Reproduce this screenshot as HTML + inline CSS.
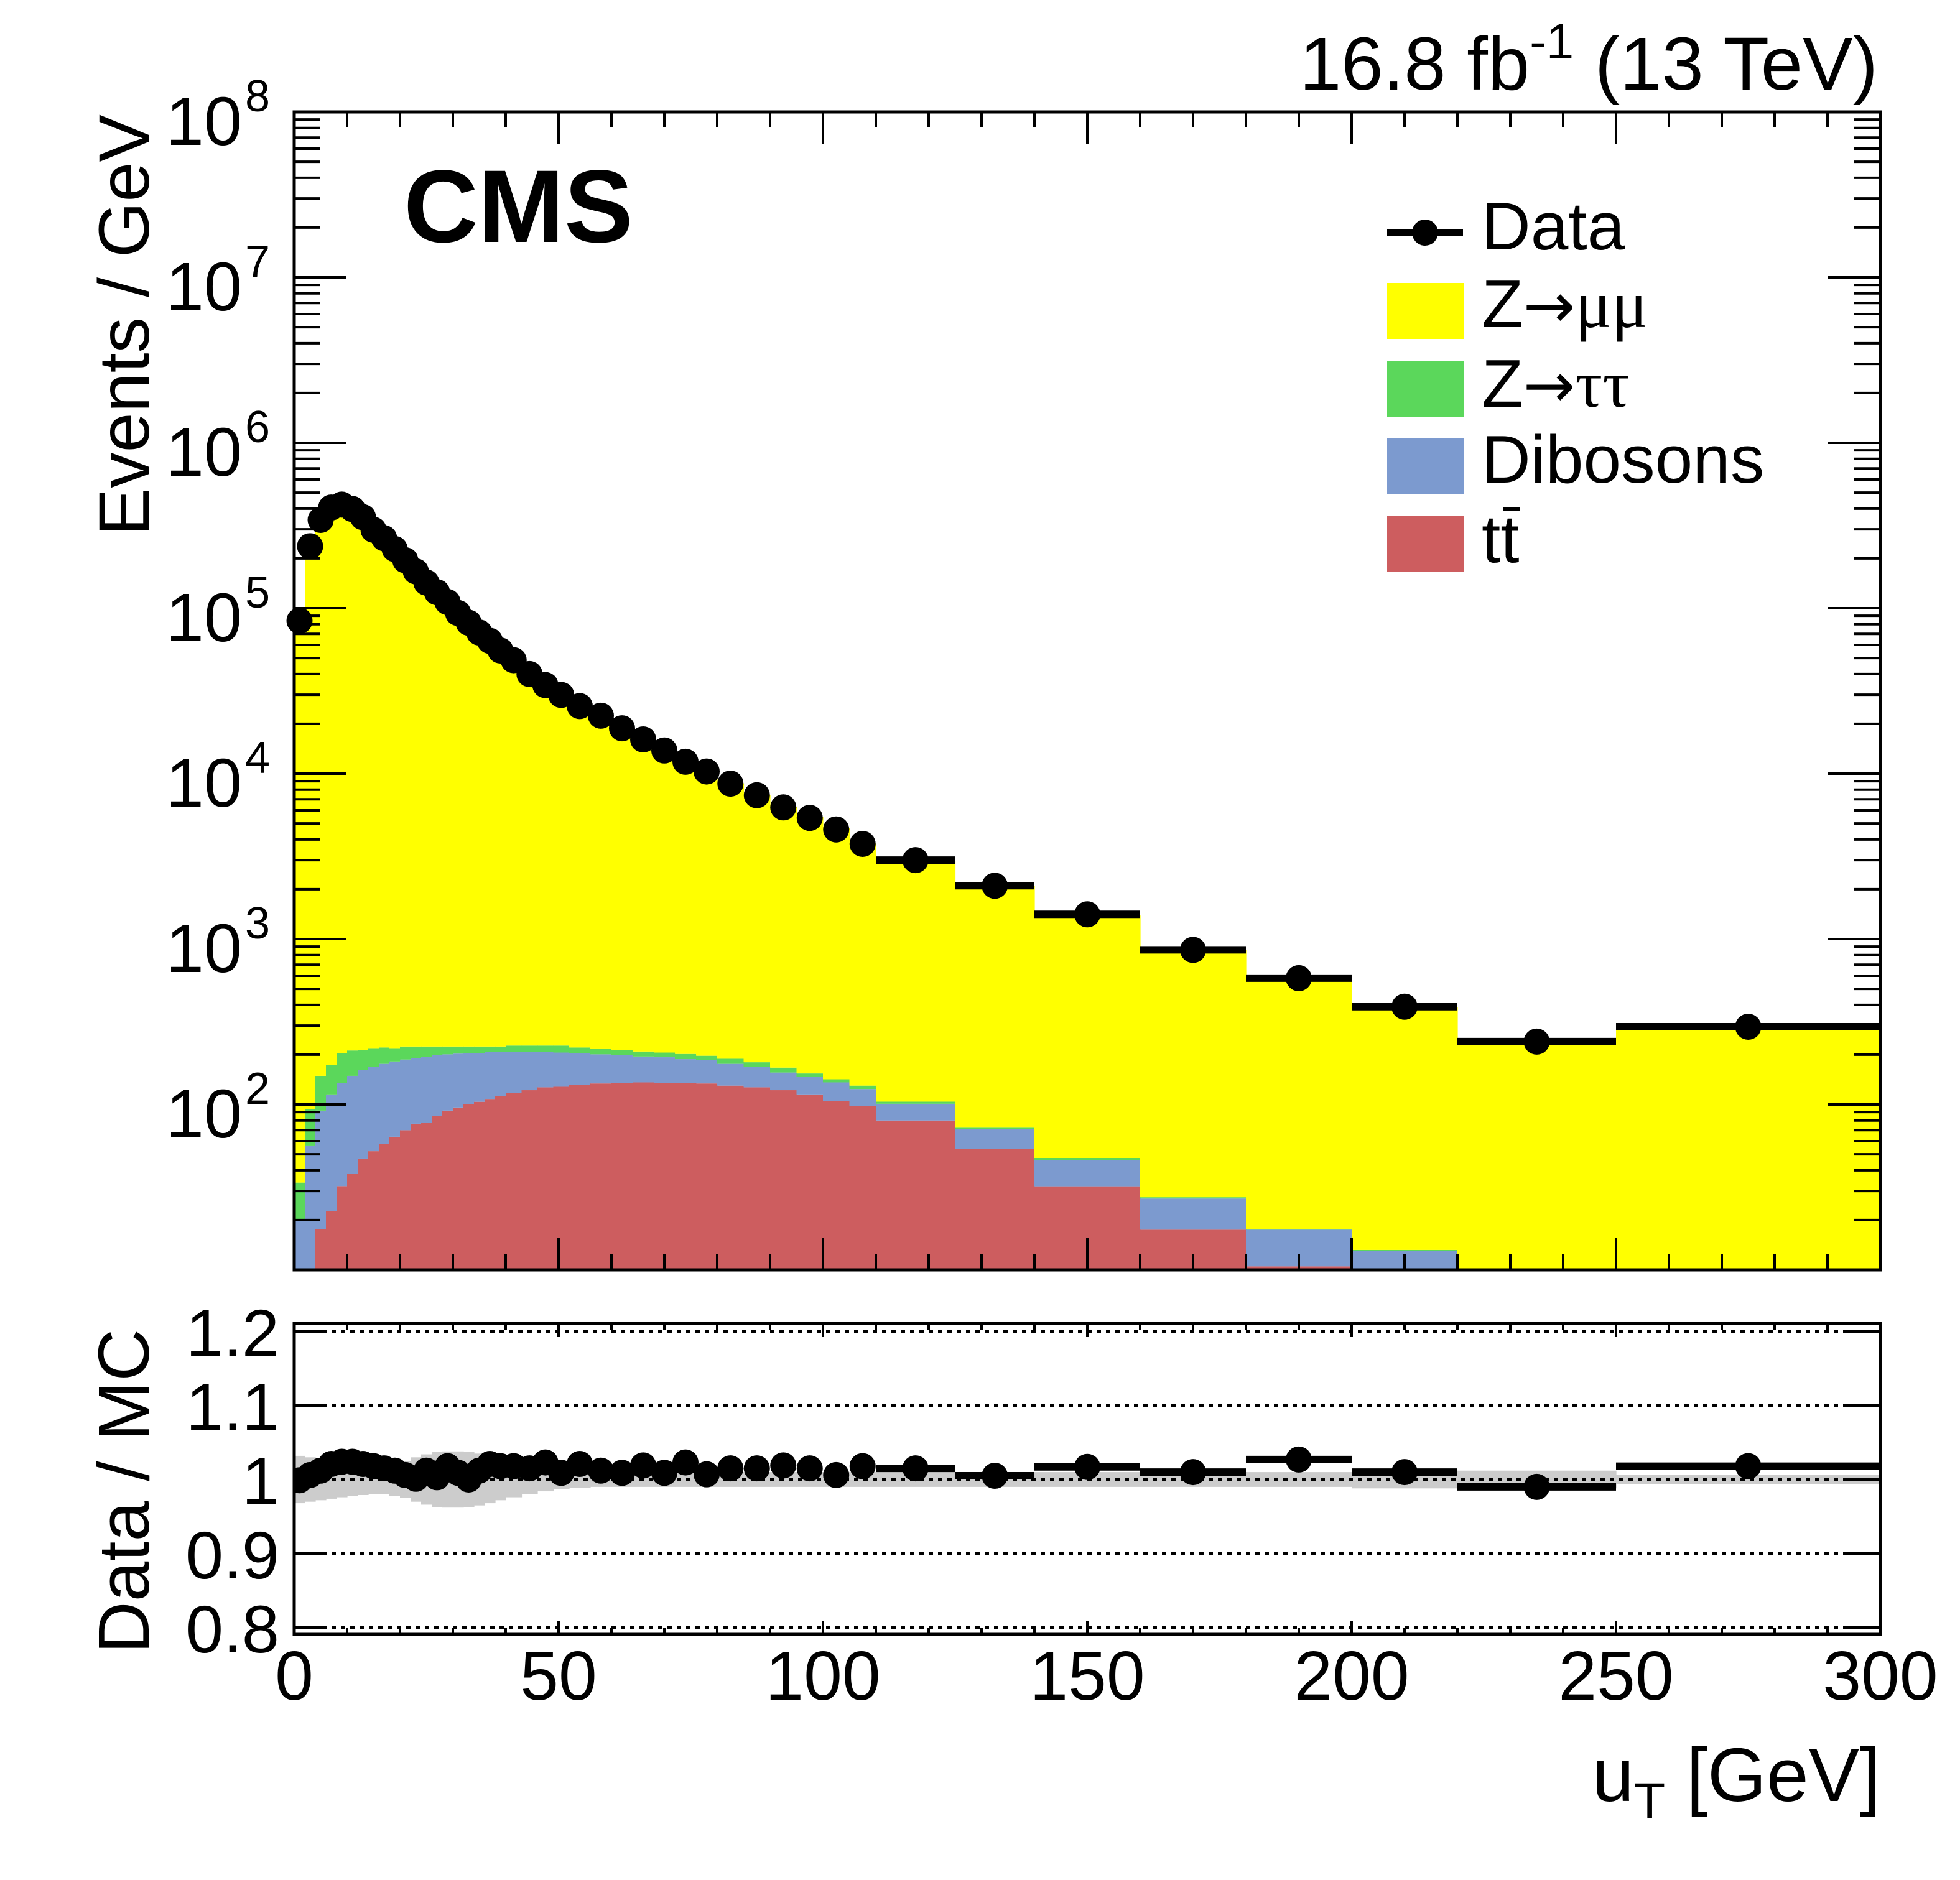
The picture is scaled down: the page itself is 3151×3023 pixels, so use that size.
<!DOCTYPE html>
<html><head><meta charset="utf-8"><style>
html,body{margin:0;padding:0;background:#fff;}
svg{display:block;font-family:"Liberation Sans",Arial,sans-serif;}
</style></head><body>
<svg id="chart" width="3151" height="3023" viewBox="0 0 3151 3023" xmlns="http://www.w3.org/2000/svg">
<defs>
<clipPath id="mainClip"><rect x="473" y="180" width="2550" height="1862"/></clipPath>
<clipPath id="ratioClip"><rect x="473" y="2128" width="2550" height="500"/></clipPath>
</defs>
<rect x="0" y="0" width="3151" height="3023" fill="#fff"/>
<g id="stack" clip-path="url(#mainClip)"></g>
<g id="band" clip-path="url(#ratioClip)"></g>
<g id="grid"></g>
<g id="ticks"></g>
<g id="dataMain"></g>
<g id="dataRatio" clip-path="url(#ratioClip)"></g>
<rect x="473" y="180" width="2550" height="1862" fill="none" stroke="#000" stroke-width="5"/>
<rect x="473" y="2128" width="2550" height="500" fill="none" stroke="#000" stroke-width="5"/>
<g id="labels" fill="#000"></g>
<text x="3019" y="144" font-size="121" text-anchor="end">16.8 fb<tspan font-size="80" dy="-50">-1</tspan><tspan dy="50"> (13 TeV)</tspan></text>
<text x="649" y="389" font-size="166" font-weight="bold">CMS</text>
<text transform="translate(239,184) rotate(-90)" font-size="115" text-anchor="end">Events / GeV</text>
<text transform="translate(239,2398) rotate(-90)" font-size="116" text-anchor="middle">Data / MC</text>
<text x="3023" y="2896" font-size="122" text-anchor="end">u<tspan font-size="82" dy="28">T</tspan><tspan dy="-28"> [GeV]</tspan></text>
<g>
  <g>
    <line x1="2230" y1="374" x2="2352" y2="374" stroke="#000" stroke-width="11"/>
    <circle cx="2291" cy="374" r="21" fill="#000"/>
    <text x="2382" y="401" font-size="109">Data</text>
  </g>
  <g>
    <rect x="2230" y="455" width="124" height="90" fill="#ffff00"/>
    <text x="2382" y="526" font-size="109">Z<tspan font-family="DejaVu Sans, sans-serif" font-size="100">→</tspan><tspan font-family="Liberation Serif, DejaVu Serif, serif">μμ</tspan></text>
  </g>
  <g>
    <rect x="2230" y="580" width="124" height="90" fill="#5bd75b"/>
    <text x="2382" y="654" font-size="109">Z<tspan font-family="DejaVu Sans, sans-serif" font-size="100">→</tspan><tspan font-family="Liberation Serif, DejaVu Serif, serif">ττ</tspan></text>
  </g>
  <g>
    <rect x="2230" y="705" width="124" height="90" fill="#7c9acf"/>
    <text x="2382" y="776" font-size="109">Dibosons</text>
  </g>
  <g>
    <rect x="2230" y="830" width="124" height="90" fill="#cd5d5f"/>
    <text x="2382" y="904" font-size="109">tt</text>
    <line x1="2416" y1="818" x2="2444" y2="818" stroke="#000" stroke-width="6"/>
  </g>
</g>
</svg>
<script>
const binEdges = [0,2,4,6,8,10,12,14,16,18,20,22,24,26,28,30,32,34,36,38,40,43,46,49,52,56,60,64,68,72,76,80,85,90,95,100,105,110,125,140,160,180,200,220,250,300];
const dataVals = [8.4e4,2.37e5,3.42e5,4.06e5,4.23e5,3.98e5,3.55e5,2.98e5,2.65e5,2.28e5,1.95e5,1.67e5,1.43e5,1.25e5,1.09e5,9.35e4,8.17e4,7.13e4,6.35e4,5.55e4,4.85e4,4.0e4,3.43e4,2.99e4,2.56e4,2.24e4,1.88e4,1.61e4,1.38e4,1.18e4,1.03e4,8.7e3,7.4e3,6.25e3,5.4e3,4.6e3,3.76e3,3.0e3,2.1e3,1.41e3,860,580,390,240,295];
const ttbarVals = [0,0,17.6,22.7,32.1,38.1,47.1,52.2,57.5,63.8,69.9,76.5,77.5,84.9,91.8,95.9,100.7,103.8,108,112,117,122,127,128,131,134,135,136,135,135,134,130,127,122,115,105,97.6,80,54,32,17.5,10.5,0,0,0];
const dibosonVals = [20.1,56.5,74.2,92.3,102.9,110.9,114.9,116.8,118.5,118.2,117.1,113.5,116.5,114.1,109.2,107.1,103.3,101.2,99,96,91,85,80,78,74,67,64,59,58,53,51,46,42,34,32,31,26.4,21,16.8,14,9.5,7,13,0,0];
const ztautauVals = [13.6,37.1,57.2,59,70,63,52,50,45,37,37,34,30,25,23,21,20,19,17,16,19,20,20,21,16,17,15,14,13,14,12,13,11,11,7,6,6,3,2.2,1.5,0.5,0.2,0.2,0,0];
const zmumuVals = [8.4e4,2.35e5,3.38e5,3.97e5,4.13e5,3.89e5,3.48e5,2.93e5,2.61e5,2.25e5,1.94e5,1.67e5,1.41e5,1.25e5,1.07e5,9.26e4,8.07e4,6.98e4,6.24e4,5.45e4,4.76e4,3.94e4,3.35e4,2.96e4,2.5e4,2.21e4,1.86e4,1.58e4,1.37e4,1.15e4,1.02e4,8.55e3,7.27e3,6.1e3,5.3e3,4.55e3,3.65e3,2.85e3,2.02e3,1.34e3,830,545,375,242,290];
const ratioVals = [0.999,1.006,1.012,1.021,1.024,1.024,1.021,1.018,1.015,1.012,1.006,1.001,1.012,1.003,1.018,1.009,1.0,1.012,1.021,1.018,1.018,1.015,1.023,1.009,1.021,1.012,1.009,1.019,1.009,1.023,1.007,1.015,1.015,1.019,1.015,1.006,1.018,1.015,1.005,1.017,1.01,1.027,1.01,0.99,1.018];
const bandHalf = [0.032,0.03,0.028,0.026,0.024,0.022,0.021,0.02,0.02,0.022,0.025,0.03,0.034,0.037,0.038,0.038,0.037,0.035,0.032,0.028,0.024,0.02,0.016,0.013,0.011,0.01,0.01,0.01,0.01,0.01,0.01,0.01,0.01,0.01,0.01,0.01,0.01,0.01,0.01,0.01,0.01,0.01,0.012,0.012,0.006];
const xTicks = [0,50,100,150,200,250,300];
const yDecades = [2,3,4,5,6,7,8];
const ratioTicks = [1.2,1.1,1.0,0.9,0.8];
const ratioTickLabels = ["1.2","1.1","1","0.9","0.8"];

const NS = "http://www.w3.org/2000/svg";
const X0 = 473, X1 = 3023, YT = 180, YB = 2042, RT = 2128, RB = 2628;
function xs(v){ return X0 + (v/300)*(X1-X0); }
function ys(v){ if(v<=0) return YB+50; return YT + (8 - Math.log10(v))*((YB-YT)/7); }
function ry(r){ return 2379 - (r-1)*1190; }
function mk(tag, attrs, parent){ const e=document.createElementNS(NS,tag); for(const k in attrs) e.setAttribute(k, attrs[k]); parent.appendChild(e); return e; }

const stack = document.getElementById('stack');
const comps = [[ttbarVals,'#cd5d5f','ttbar'],[dibosonVals,'#7c9acf','diboson'],[ztautauVals,'#5bd75b','ztautau'],[zmumuVals,'#ffff00','zmumu']];
for(let i=0;i<binEdges.length-1;i++){
  let cum = 0;
  for(const [arr,col,nm] of comps){
    const lo = cum; cum += arr[i];
    if(arr[i] <= 0) continue;
    const yTop = ys(cum), yLo = lo>0 ? ys(lo) : YB+50;
    const r = mk('rect',{x:xs(binEdges[i]),y:yTop,width:xs(binEdges[i+1])-xs(binEdges[i])+0.6,height:Math.max(0,yLo-yTop),fill:col},stack);
    
    
  }
}

const band = document.getElementById('band');
for(let i=0;i<binEdges.length-1;i++){
  const r = mk('rect',{x:xs(binEdges[i]),y:ry(1+bandHalf[i]),width:xs(binEdges[i+1])-xs(binEdges[i])+0.6,height:ry(1-bandHalf[i])-ry(1+bandHalf[i]),fill:'#cccccc'},band);
  
  
}

const grid = document.getElementById('grid');
for(const t of ratioTicks){
  const l = mk('line',{x1:X0,x2:X1,y1:ry(t),y2:ry(t),stroke:'#000','stroke-width':5,'stroke-dasharray':'7 8'},grid);
  
  
}

const ticks = document.getElementById('ticks');
function tk(x1,y1,x2,y2){ const l=mk('line',{x1:x1,y1:y1,x2:x2,y2:y2,stroke:'#000','stroke-width':4},ticks);   }
for(let d=1; d<8; d++){
  for(let m=1;m<10;m++){
    const v = m*Math.pow(10,d); const y = ys(v);
    if(y<YT-1||y>YB+1) continue;
    const len = m===1?84:42;
    tk(X0,y,X0+len,y); tk(X1,y,X1-len,y);
  }
}
tk(X0,YT,X0+84,YT); tk(X1,YT,X1-84,YT);
for(let v=0; v<=300; v+=10){
  const major = v%50===0; const x = xs(v);
  tk(x,YB,x,YB-(major?51:25)); tk(x,YT,x,YT+(major?51:25));
  tk(x,RB,x,RB-(major?22:11)); tk(x,RT,x,RT+(major?22:11));
}
for(const t of ratioTicks){ tk(X0,ry(t),X0+50,ry(t)); tk(X1,ry(t),X1-56,ry(t)); }

const labels = document.getElementById('labels');
for(const d of yDecades){
  const y = ys(Math.pow(10,d));
  const g = mk('text',{x:389,y:y+53,'font-size':110,'text-anchor':'end'},labels);
  g.textContent = '10';
  
  
  const e = mk('text',{x:394,y:y-1,'font-size':72},labels);
  e.textContent = String(d);
  
  
}
ratioTicks.forEach((t,i)=>{
  const e = mk('text',{x:449,y:ry(t)+40,'font-size':108,'text-anchor':'end'},labels);
  e.textContent = ratioTickLabels[i];
  
  
});
for(const v of xTicks){
  const e = mk('text',{x:xs(v),y:2733,'font-size':111,'text-anchor':'middle'},labels);
  e.textContent = String(v);
  
  
}

const dm = document.getElementById('dataMain');
const dr = document.getElementById('dataRatio');
for(let i=0;i<dataVals.length;i++){
  const a = binEdges[i], b = binEdges[i+1], c = (a+b)/2;
  if(b-a > 5){
    const l1 = mk('line',{x1:xs(a),x2:xs(b),y1:ys(dataVals[i]),y2:ys(dataVals[i]),stroke:'#000','stroke-width':12},dm);
    
    
    const l2 = mk('line',{x1:xs(a),x2:xs(b),y1:ry(ratioVals[i]),y2:ry(ratioVals[i]),stroke:'#000','stroke-width':12},dr);
    
    
  }
  const p = mk('circle',{cx:xs(c),cy:ys(dataVals[i]),r:21,fill:'#000'},dm);
  
  
  const q = mk('circle',{cx:xs(c),cy:ry(ratioVals[i]),r:21,fill:'#000'},dr);
  
  
}
</script>
</body></html>
